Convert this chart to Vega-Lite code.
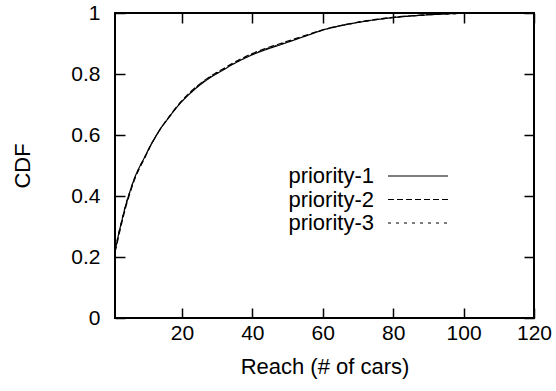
{
  "$schema": "https://vega.github.io/schema/vega-lite/v6.json",
  "width": 419,
  "height": 305,
  "autosize": {"type": "none"},
  "padding": {"left": 115, "top": 13, "right": 22, "bottom": 73},
  "background": "white",
  "config": {
    "view": {"stroke": "black", "strokeWidth": 2},
    "font": "Liberation Sans",
    "axis": {"grid": false, "domain": false, "labelFlush": false, "tickColor": "black", "tickWidth": 1.5, "labelColor": "black", "titleColor": "black", "labelFont": "Liberation Sans", "titleFont": "Liberation Sans", "labelFontSize": 21, "titleFontSize": 22, "titleFontWeight": "normal"}
  },
  "data": {"values": [
    {"x": 1, "y": 0.222, "s": "priority-1"}, {"x": 1.5, "y": 0.246, "s": "priority-1"}, {"x": 2, "y": 0.273, "s": "priority-1"}, {"x": 3, "y": 0.322, "s": "priority-1"}, {"x": 4, "y": 0.368, "s": "priority-1"}, {"x": 5, "y": 0.406, "s": "priority-1"}, {"x": 6.7, "y": 0.463, "s": "priority-1"}, {"x": 8, "y": 0.496, "s": "priority-1"}, {"x": 9.5, "y": 0.529, "s": "priority-1"}, {"x": 11, "y": 0.564, "s": "priority-1"}, {"x": 12.8, "y": 0.6, "s": "priority-1"}, {"x": 14, "y": 0.622, "s": "priority-1"}, {"x": 16, "y": 0.653, "s": "priority-1"}, {"x": 18, "y": 0.683, "s": "priority-1"}, {"x": 20, "y": 0.71, "s": "priority-1"}, {"x": 22.5, "y": 0.738, "s": "priority-1"}, {"x": 24.7, "y": 0.76, "s": "priority-1"}, {"x": 27, "y": 0.78, "s": "priority-1"}, {"x": 29.4, "y": 0.798, "s": "priority-1"}, {"x": 32, "y": 0.815, "s": "priority-1"}, {"x": 34, "y": 0.829, "s": "priority-1"}, {"x": 36.5, "y": 0.844, "s": "priority-1"}, {"x": 39, "y": 0.858, "s": "priority-1"}, {"x": 43.6, "y": 0.879, "s": "priority-1"}, {"x": 48, "y": 0.896, "s": "priority-1"}, {"x": 52, "y": 0.912, "s": "priority-1"}, {"x": 56, "y": 0.928, "s": "priority-1"}, {"x": 60, "y": 0.944, "s": "priority-1"}, {"x": 65, "y": 0.958, "s": "priority-1"}, {"x": 70, "y": 0.969, "s": "priority-1"}, {"x": 75, "y": 0.978, "s": "priority-1"}, {"x": 80, "y": 0.985, "s": "priority-1"}, {"x": 85, "y": 0.99, "s": "priority-1"}, {"x": 90, "y": 0.994, "s": "priority-1"}, {"x": 95, "y": 0.997, "s": "priority-1"}, {"x": 100, "y": 0.999, "s": "priority-1"}, {"x": 105, "y": 1, "s": "priority-1"}, {"x": 120, "y": 1, "s": "priority-1"},
    {"x": 1, "y": 0.216, "s": "priority-2"}, {"x": 1.5, "y": 0.239, "s": "priority-2"}, {"x": 2, "y": 0.266, "s": "priority-2"}, {"x": 3, "y": 0.315, "s": "priority-2"}, {"x": 4, "y": 0.361, "s": "priority-2"}, {"x": 5, "y": 0.4, "s": "priority-2"}, {"x": 6.7, "y": 0.458, "s": "priority-2"}, {"x": 8, "y": 0.492, "s": "priority-2"}, {"x": 9.5, "y": 0.526, "s": "priority-2"}, {"x": 11, "y": 0.562, "s": "priority-2"}, {"x": 12.8, "y": 0.599, "s": "priority-2"}, {"x": 14, "y": 0.622, "s": "priority-2"}, {"x": 16, "y": 0.654, "s": "priority-2"}, {"x": 18, "y": 0.685, "s": "priority-2"}, {"x": 20, "y": 0.713, "s": "priority-2"}, {"x": 22.5, "y": 0.742, "s": "priority-2"}, {"x": 24.7, "y": 0.764, "s": "priority-2"}, {"x": 27, "y": 0.784, "s": "priority-2"}, {"x": 29.4, "y": 0.802, "s": "priority-2"}, {"x": 32, "y": 0.819, "s": "priority-2"}, {"x": 34, "y": 0.833, "s": "priority-2"}, {"x": 36.5, "y": 0.848, "s": "priority-2"}, {"x": 39, "y": 0.862, "s": "priority-2"}, {"x": 43.6, "y": 0.883, "s": "priority-2"}, {"x": 48, "y": 0.9, "s": "priority-2"}, {"x": 52, "y": 0.915, "s": "priority-2"}, {"x": 56, "y": 0.93, "s": "priority-2"}, {"x": 60, "y": 0.945, "s": "priority-2"}, {"x": 65, "y": 0.959, "s": "priority-2"}, {"x": 70, "y": 0.97, "s": "priority-2"}, {"x": 75, "y": 0.979, "s": "priority-2"}, {"x": 80, "y": 0.986, "s": "priority-2"}, {"x": 85, "y": 0.991, "s": "priority-2"}, {"x": 90, "y": 0.995, "s": "priority-2"}, {"x": 95, "y": 0.997, "s": "priority-2"}, {"x": 100, "y": 0.999, "s": "priority-2"}, {"x": 105, "y": 1, "s": "priority-2"}, {"x": 120, "y": 1, "s": "priority-2"},
    {"x": 1, "y": 0.226, "s": "priority-3"}, {"x": 1.5, "y": 0.249, "s": "priority-3"}, {"x": 2, "y": 0.276, "s": "priority-3"}, {"x": 3, "y": 0.324, "s": "priority-3"}, {"x": 4, "y": 0.369, "s": "priority-3"}, {"x": 5, "y": 0.406, "s": "priority-3"}, {"x": 6.7, "y": 0.462, "s": "priority-3"}, {"x": 8, "y": 0.495, "s": "priority-3"}, {"x": 9.5, "y": 0.528, "s": "priority-3"}, {"x": 11, "y": 0.563, "s": "priority-3"}, {"x": 12.8, "y": 0.6, "s": "priority-3"}, {"x": 14, "y": 0.622, "s": "priority-3"}, {"x": 16, "y": 0.653, "s": "priority-3"}, {"x": 18, "y": 0.684, "s": "priority-3"}, {"x": 20, "y": 0.711, "s": "priority-3"}, {"x": 22.5, "y": 0.74, "s": "priority-3"}, {"x": 24.7, "y": 0.762, "s": "priority-3"}, {"x": 27, "y": 0.782, "s": "priority-3"}, {"x": 29.4, "y": 0.8, "s": "priority-3"}, {"x": 32, "y": 0.817, "s": "priority-3"}, {"x": 34, "y": 0.831, "s": "priority-3"}, {"x": 36.5, "y": 0.846, "s": "priority-3"}, {"x": 39, "y": 0.86, "s": "priority-3"}, {"x": 43.6, "y": 0.881, "s": "priority-3"}, {"x": 48, "y": 0.898, "s": "priority-3"}, {"x": 52, "y": 0.913, "s": "priority-3"}, {"x": 56, "y": 0.929, "s": "priority-3"}, {"x": 60, "y": 0.944, "s": "priority-3"}, {"x": 65, "y": 0.958, "s": "priority-3"}, {"x": 70, "y": 0.969, "s": "priority-3"}, {"x": 75, "y": 0.978, "s": "priority-3"}, {"x": 80, "y": 0.985, "s": "priority-3"}, {"x": 85, "y": 0.99, "s": "priority-3"}, {"x": 90, "y": 0.994, "s": "priority-3"}, {"x": 95, "y": 0.997, "s": "priority-3"}, {"x": 100, "y": 0.999, "s": "priority-3"}, {"x": 105, "y": 1, "s": "priority-3"}, {"x": 120, "y": 1, "s": "priority-3"}
  ]},
  "layer": [
    {
      "mark": {"type": "line", "color": "black", "strokeWidth": 1.2, "interpolate": "monotone"},
      "encoding": {
        "x": {"field": "x", "type": "quantitative", "scale": {"domain": [1, 120], "nice": false, "zero": false},
          "axis": {"orient": "bottom", "values": [20, 40, 60, 80, 100, 120], "title": "Reach (# of cars)", "tickSize": -10, "labelPadding": 14, "titlePadding": 13}},
        "y": {"field": "y", "type": "quantitative", "scale": {"domain": [0, 1], "nice": false},
          "axis": {"orient": "left", "values": [0, 0.2, 0.4, 0.6, 0.8, 1], "format": ".1~f", "title": "CDF", "tickSize": -10, "labelPadding": 25, "titlePadding": 36}},
        "strokeDash": {"field": "s", "type": "nominal",
          "scale": {"domain": ["priority-1", "priority-2", "priority-3"], "range": [[1, 0], [6, 3], [3, 5]]},
          "legend": {"orient": "none", "legendX": 292, "legendY": 152, "title": null, "padding": 0, "symbolType": "M-3,0H3", "symbolSize": 400, "symbolStrokeWidth": 1.2, "symbolStrokeColor": "black", "labelFont": "Liberation Sans", "labelFontSize": 22, "labelColor": "black", "labelAlign": "right", "labelOffset": -55, "rowPadding": 1.5, "labelLimit": 200}}
      }
    },
    {
      "mark": {"type": "point", "opacity": 0},
      "encoding": {
        "x": {"field": "x", "type": "quantitative", "axis": {"orient": "top", "values": [20, 40, 60, 80, 100, 120], "labels": false, "title": null, "tickSize": -10}},
        "y": {"field": "y", "type": "quantitative", "axis": {"orient": "right", "values": [0, 0.2, 0.4, 0.6, 0.8, 1], "labels": false, "title": null, "tickSize": -10}}
      }
    }
  ],
  "resolve": {"axis": {"x": "independent", "y": "independent"}}
}
